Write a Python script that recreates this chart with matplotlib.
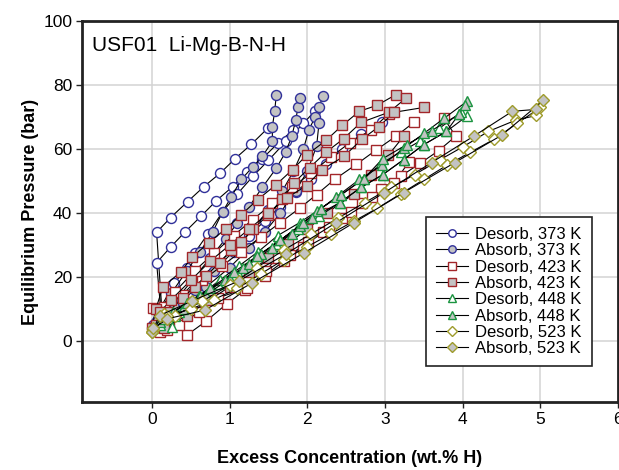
import numpy as np
import matplotlib
matplotlib.use('Agg')
import matplotlib.pyplot as plt

# ---- data: each series is a list of cycles (x list, y list) ----
des373 = [
    ([1.49, 1.28, 1.07, 0.88, 0.67, 0.46, 0.24, 0.06, 0.13],
     [66.5, 61.5, 57.0, 52.5, 48.3, 43.6, 38.6, 34.0, 9.0]),
    ([1.82, 1.62, 1.42, 1.22, 1.04, 0.83, 0.63, 0.43, 0.24, 0.06, 0.12],
     [66.0, 61.8, 57.0, 52.7, 48.3, 43.9, 39.0, 34.2, 29.4, 24.5, 8.0]),
    ([2.10, 1.95, 1.73, 1.50, 1.30, 1.10, 0.91, 0.72, 0.55, 0.45, 0.29, 0.10],
     [72.0, 68.0, 62.5, 56.5, 51.5, 46.0, 40.4, 33.5, 27.6, 22.9, 18.2, 10.0]),
    ([2.96, 2.69, 2.45, 2.24, 2.05, 1.85, 1.65, 1.45, 1.25, 1.05, 0.83, 0.58, 0.35, 0.08],
     [68.6, 64.6, 60.0, 55.2, 50.8, 46.5, 42.0, 37.5, 33.0, 28.5, 24.0, 19.1, 13.5, 5.0]),
]
abs373 = [
    ([0.00, 0.08, 0.25, 0.45, 0.62, 0.78, 0.91, 1.02, 1.15, 1.30, 1.42, 1.55, 1.55, 1.58, 1.60],
     [4.0, 9.0, 15.0, 22.0, 28.0, 34.0, 40.4, 45.0, 50.5, 54.5, 57.7, 62.4, 67.0, 71.8, 76.8]),
    ([0.02, 0.15, 0.35, 0.55, 0.75, 0.95, 1.10, 1.25, 1.42, 1.60, 1.72, 1.80, 1.85, 1.88, 1.90],
     [5.0, 9.0, 14.0, 20.0, 26.0, 32.0, 37.0, 42.0, 48.0, 54.0, 59.0, 64.0, 69.0, 73.0, 76.0]),
    ([0.05, 0.30, 0.55, 0.80, 1.05, 1.30, 1.50, 1.68, 1.82, 1.95, 2.02, 2.10, 2.15, 2.20],
     [6.0, 11.0, 16.0, 22.0, 28.0, 35.0, 41.0, 47.0, 53.0, 60.0, 66.0, 70.0, 73.0, 76.5]),
    ([0.08, 0.40, 0.70, 1.00, 1.25, 1.45, 1.65, 1.85, 2.00, 2.12, 2.15],
     [7.0, 12.0, 17.0, 23.0, 29.0, 34.0, 40.0, 47.0, 53.0, 61.0, 68.0]),
]
des423 = [
    ([3.76, 3.91, 3.69, 3.45, 3.20, 2.95, 2.70, 2.45, 2.20, 1.95, 1.70, 1.45, 1.20, 0.96, 0.70, 0.45],
     [69.6, 64.0, 59.5, 55.5, 51.5, 47.5, 43.0, 38.5, 34.0, 29.5, 25.0, 20.5, 16.0, 11.6, 6.3, 1.9]),
    ([3.37, 3.14, 2.88, 2.63, 2.35, 2.12, 1.90, 1.65, 1.40, 1.15, 0.90, 0.65, 0.40, 0.15, 0.10],
     [68.3, 64.0, 59.6, 55.2, 50.5, 45.8, 41.5, 37.0, 32.5, 28.0, 23.5, 19.0, 14.5, 10.0, 3.0]),
    ([3.31, 3.12, 2.83, 2.56, 2.28, 2.01, 1.78, 1.60, 1.47, 1.22, 0.85, 0.60, 0.35, 0.20],
     [56.1, 49.5, 45.1, 40.4, 35.7, 31.0, 27.0, 26.0, 21.9, 16.6, 13.5, 9.0, 5.0, 3.5]),
    ([3.05, 2.82, 2.55, 2.30, 2.05, 1.80, 1.55, 1.30, 1.05, 0.80, 0.55, 0.30, 0.15, 0.01],
     [71.0, 66.0, 62.0, 57.5, 52.5, 48.0, 43.0, 38.0, 33.0, 27.5, 22.0, 15.5, 10.7, 10.3]),
]
abs423 = [
    ([0.00, 0.05, 0.14, 0.37, 0.52, 0.73, 0.95, 1.15, 1.36, 1.60, 1.81, 2.00, 2.24, 2.45, 2.67, 2.90, 3.14],
     [4.0, 10.0, 16.9, 21.6, 26.3, 30.7, 35.1, 39.5, 44.2, 48.9, 53.6, 58.3, 62.7, 67.4, 71.8, 73.7, 77.0]),
    ([0.05, 0.20, 0.40, 0.55, 0.70, 0.87, 1.02, 1.15, 1.30, 1.50, 1.68, 1.83, 2.03, 2.24, 2.47, 2.69, 3.05, 3.27],
     [5.0, 9.0, 13.5, 17.0, 20.5, 24.5, 28.5, 31.0, 35.0, 39.5, 44.5, 49.5, 54.2, 59.0, 63.3, 68.3, 71.5, 75.9]),
    ([0.10, 0.25, 0.50, 0.75, 1.00, 1.25, 1.50, 1.74, 1.99, 2.19, 2.47, 2.70, 2.92, 3.12, 3.50],
     [9.0, 13.0, 19.0, 25.0, 30.0, 35.0, 40.0, 44.8, 48.6, 53.6, 57.7, 63.0, 67.0, 71.5, 73.0]),
    ([0.15, 0.45, 0.75, 1.00, 1.25, 1.50, 1.75, 2.00, 2.25, 2.60, 2.82, 3.04, 3.24],
     [4.0, 8.0, 13.0, 17.0, 21.5, 26.0, 30.5, 35.0, 40.0, 46.0, 52.0, 58.0, 64.0]),
]
des448 = [
    ([4.05, 3.79, 3.50, 3.24, 2.97, 2.69, 2.42, 2.15, 1.88, 1.60, 1.35, 1.10, 0.85, 0.60, 0.35, 0.10],
     [70.2, 65.5, 61.4, 56.7, 52.0, 48.0, 43.3, 39.0, 35.0, 30.5, 26.5, 22.0, 18.0, 13.5, 9.0, 5.0]),
    ([3.98, 3.70, 3.45, 3.20, 2.95, 2.73, 2.44, 2.17, 1.90, 1.62, 1.37, 1.12, 0.87, 0.60, 0.30, 0.26],
     [71.5, 66.5, 62.5, 59.0, 55.5, 50.8, 45.8, 41.4, 37.0, 33.0, 28.0, 23.5, 19.0, 14.0, 8.0, 4.4]),
]
abs448 = [
    ([0.02, 0.27, 0.62, 0.94, 1.17, 1.41, 1.65, 1.90, 2.13, 2.37, 2.67, 2.96, 3.24, 3.50, 3.76, 4.06],
     [4.0, 9.1, 14.1, 19.1, 22.9, 27.3, 31.5, 36.0, 40.5, 45.0, 50.5, 54.9, 60.2, 64.9, 69.6, 75.0]),
    ([0.10, 0.40, 0.70, 1.00, 1.25, 1.54, 1.80, 2.06, 2.42, 2.69, 2.97, 3.24, 3.50, 3.79, 3.95, 4.03],
     [6.0, 10.0, 14.5, 19.5, 24.0, 29.0, 33.5, 38.5, 43.3, 48.0, 52.0, 56.7, 61.4, 65.5, 70.8, 73.7]),
    ([0.15, 0.45, 0.75, 1.05, 1.35, 1.65, 1.95, 2.17, 2.44, 2.73, 2.97, 3.28, 3.60, 3.95],
     [7.0, 12.0, 16.5, 21.5, 26.5, 31.5, 37.0, 41.4, 45.8, 50.8, 57.0, 61.4, 65.8, 70.8]),
]
des523 = [
    ([4.95, 4.68, 4.33, 4.01, 3.71, 3.38, 3.08, 2.74, 2.40, 2.05, 1.70, 1.35, 1.00, 0.65, 0.30, 0.15, 0.01],
     [70.5, 69.0, 65.5, 60.8, 56.7, 52.0, 48.0, 43.3, 38.5, 33.5, 28.5, 23.0, 17.5, 12.5, 8.0, 8.5, 3.4]),
    ([5.00, 4.70, 4.40, 4.10, 3.80, 3.50, 3.20, 2.90, 2.60, 2.30, 2.00, 1.70, 1.40, 1.10, 0.80, 0.50, 0.20, 0.00],
     [73.0, 68.0, 63.0, 59.0, 55.0, 50.5, 46.0, 41.5, 37.5, 33.5, 29.5, 25.5, 21.0, 16.5, 13.0, 10.0, 8.0, 3.0]),
]
abs523 = [
    ([0.00, 0.10, 0.51, 1.12, 1.73, 2.37, 2.99, 3.60, 4.14, 4.64, 4.95],
     [3.0, 8.0, 12.5, 18.8, 27.3, 37.0, 46.4, 55.8, 64.0, 71.8, 72.4]),
    ([0.02, 0.20, 0.68, 1.29, 1.96, 2.60, 3.24, 3.90, 4.50, 5.04],
     [4.0, 7.0, 9.7, 18.2, 27.6, 37.0, 46.4, 55.8, 64.3, 75.2]),
]

x_ticks = [0, 1, 2, 3, 4, 5, 6]
y_ticks = [0, 20, 40, 60, 80, 100]

blue = '#30309a'
red = '#a3262a'
green = '#1b9440'
olive = '#9e9b2b'
fill = '#c3c3c3'

series = [
    ('Desorb, 373 K', des373, 'o', blue, 'white', 7.2),
    ('Absorb, 373 K', abs373, 'o', blue, fill, 7.2),
    ('Desorb, 423 K', des423, 's', red, 'white', 6.8),
    ('Absorb, 423 K', abs423, 's', red, fill, 6.8),
    ('Desorb, 448 K', des448, '^', green, 'white', 7.6),
    ('Absorb, 448 K', abs448, '^', green, fill, 7.6),
    ('Desorb, 523 K', des523, 'D', olive, 'white', 6.2),
    ('Absorb, 523 K', abs523, 'D', olive, fill, 6.2),
]


def join_cycles(cycles):
    # put NaN between cycles so each series is one line with breaks
    xs, ys = [], []
    for cx, cy in cycles:
        xs += list(cx) + [np.nan]
        ys += list(cy) + [np.nan]
    return xs, ys


plt.rcParams['font.family'] = ['Liberation Sans Narrow', 'Liberation Sans', 'DejaVu Sans']

fig = plt.figure(figsize=(6.19, 4.70), dpi=100)
ax = fig.add_axes([0.1325, 0.1447, 0.866, 0.8106])

for label, cycles, marker, color, face, size in series:
    xs, ys = join_cycles(cycles)
    ax.plot(xs, ys, color='black', lw=0.8, marker=marker, ms=size,
            mec=color, mfc=face, mew=1.0, label=label)

ax.set_xlim(-0.9, 6.0)
ax.set_ylim(-19, 100)
ax.set_xticks(x_ticks)
ax.set_yticks(y_ticks)
ax.grid(True, color='#d3d3d3', lw=1.1)
ax.set_axisbelow(True)
for sp in ax.spines.values():
    sp.set_linewidth(2.0)
    sp.set_color('#222222')
ax.tick_params(labelsize=12.5, length=4, width=1, color='#222222', pad=3)

ax.set_xlabel('Excess Concentration (wt.% H)', fontsize=13, fontweight='bold',
              family='Liberation Sans', labelpad=17)
ax.set_ylabel('Equilibrium Pressure (bar)', fontsize=13, fontweight='bold',
              family='Liberation Sans', labelpad=3)

ax.text(-0.77, 92.5, 'USF01  Li-Mg-B-N-H', fontsize=15, family='Liberation Sans',
        va='center', ha='left')

leg = ax.legend(loc='lower right', bbox_to_anchor=(0.951, 0.094), borderaxespad=0,
                fontsize=12, markerscale=0.75, handlelength=1.9, handletextpad=0.45,
                labelspacing=0.08, fancybox=False, framealpha=1, edgecolor='#222222',
                borderpad=0.6)
leg.get_frame().set_linewidth(1.2)

fig.savefig('out.png', dpi=100)
